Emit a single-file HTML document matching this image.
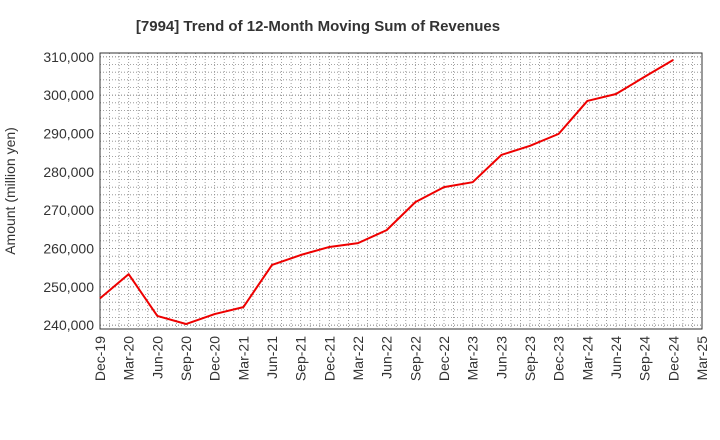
<!DOCTYPE html>
<html><head><meta charset="utf-8"><style>
body{margin:0;background:#fff;}
svg{display:block;font-family:"Liberation Sans",sans-serif;}
</style></head><body>
<svg id="chart" width="720" height="440">
<text x="318" y="31" text-anchor="middle" font-size="15" font-weight="bold" fill="#333">[7994]  Trend of 12-Month Moving Sum of Revenues</text>
<text transform="translate(19,191) rotate(-90)" x="0" y="0" dx="0" text-anchor="middle" font-size="14" fill="#333" style="transform:translate(15px,191px) rotate(-90deg)">Amount (million yen)</text>
<g id="grid"></g><g id="axes"></g><g id="series"></g>
</svg>
<script>
const categories=["Dec-19","Mar-20","Jun-20","Sep-20","Dec-20","Mar-21","Jun-21","Sep-21","Dec-21","Mar-22","Jun-22","Sep-22","Dec-22","Mar-23","Jun-23","Sep-23","Dec-23","Mar-24","Jun-24","Sep-24","Dec-24","Mar-25"];
const revenues=[247000,253300,242400,240300,242900,244700,255700,258300,260400,261400,264800,272100,276000,277300,284400,286800,289900,298500,300300,304800,309200];
const yTicks=[240000,250000,260000,270000,280000,290000,300000,310000];
const NS="http://www.w3.org/2000/svg";
const L=100,R=702,T=53,B=329;
const yMin=239000,yMax=311000;
function xPos(i){return L+(R-L)*i/(categories.length-1);}
function yPos(v){return B-(v-yMin)/(yMax-yMin)*(B-T);}
function mk(tag,attrs,parent){const e=document.createElementNS(NS,tag);for(const k in attrs)e.setAttribute(k,attrs[k]);parent.appendChild(e);return e;}
const grid=document.getElementById('grid'),axes=document.getElementById('axes'),series=document.getElementById('series');
const months=(categories.length-1)*3;
for(let m=1;m<months;m++){const x=L+(R-L)*m/months;const g=mk('line',{x1:x,x2:x,y1:T,y2:B,stroke:'#888','stroke-dasharray':'1,2','stroke-width':0.8},grid);

}
for(let v=yMin+1000;v<yMax;v+=2000){const y=yPos(v);const g=mk('line',{x1:L,x2:R,y1:y,y2:y,stroke:'#888','stroke-dasharray':'1,2','stroke-width':0.8},grid);

}
yTicks.forEach(v=>{const y=yPos(v);const g=mk('line',{x1:L,x2:R,y1:y,y2:y,stroke:'#888','stroke-dasharray':'1,2','stroke-width':0.8},grid);


const t=mk('text',{x:L-6,y:y+5,'text-anchor':'end','font-size':14,fill:'#333'},axes);t.textContent=v.toLocaleString('en-US');

});
const frame=mk('rect',{x:L,y:T,width:R-L,height:B-T,fill:'none',stroke:'#333','stroke-width':1},axes);


categories.forEach((c,i)=>{const x=xPos(i);const t=mk('text',{transform:`translate(${x+5},${B+7}) rotate(-90)`,'text-anchor':'end','font-size':14,fill:'#333'},axes);t.textContent=c;

});
const pts=revenues.map((v,i)=>xPos(i)+','+yPos(v)).join(' ');
const line=mk('polyline',{points:pts,fill:'none',stroke:'#ee0000','stroke-width':2,'stroke-linejoin':'round'},series);


</script>
</body></html>
